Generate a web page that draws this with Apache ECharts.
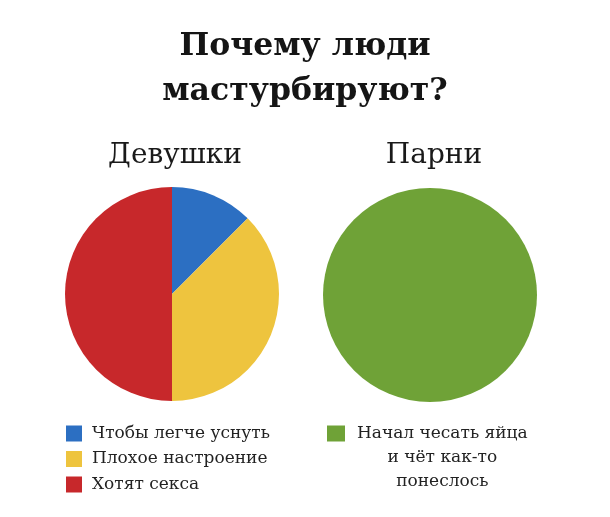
<!DOCTYPE html>
<html>
<head>
<meta charset="utf-8">
<script src="https://cdn.jsdelivr.net/npm/echarts@6/dist/echarts.min.js"></script>
<style>
  html, body { margin: 0; padding: 0; background: #fff; }
  #chart { width: 610px; height: 517px; }
</style>
</head>
<body>
<div id="chart"></div>
<script>
// данные
const mainTitle = 'Почему люди\nмастурбируют?'
const groupNames = ['Девушки', 'Парни']
const girlsReasons = ['Чтобы легче уснуть', 'Плохое настроение', 'Хотят секса']
const girlsShares = [12.5, 37.5, 50]
const guysReasons = ['Начал чесать яйца\nи чёт как-то\nпонеслось']
const guysShares = [100]

const serif = '"DejaVu Serif", "Liberation Serif", serif'
const girlsColors = ['#2c6fc2', '#eec43e', '#c7282b']
const guysColors = ['#6fa237']

const chart = echarts.init(document.getElementById('chart'))

const option = {
  backgroundColor: '#ffffff',
  animation: false,
  title: {
    text: mainTitle,
    left: 'center',
    top: 19,
    textStyle: { fontFamily: serif, fontSize: 31.5, fontWeight: 'bold', color: '#151515', lineHeight: 45 }
  },
  graphic: [
    { type: 'text', x: 175, y: 156, style: { text: groupNames[0], fontFamily: serif, fontSize: 28, fill: '#1a1a1a', align: 'center', verticalAlign: 'middle' } },
    { type: 'text', x: 434, y: 156, style: { text: groupNames[1], fontFamily: serif, fontSize: 28, fill: '#1a1a1a', align: 'center', verticalAlign: 'middle' } }
  ],
  legend: [
    {
      data: girlsReasons,
      orient: 'vertical',
      left: 66,
      top: 425,
      padding: 0,
      itemWidth: 16,
      itemHeight: 16,
      itemGap: 8.5,
      icon: 'rect',
      selectedMode: false,
      textStyle: { fontFamily: serif, fontSize: 17, color: '#222', padding: [0, 0, 0, 5] }
    },
    {
      data: guysReasons,
      left: 327,
      top: 425,
      padding: 0,
      itemWidth: 18,
      itemHeight: 16,
      icon: 'rect',
      selectedMode: false,
      // первая строка рядом с квадратиком, остальные по центру под ней
      formatter: name => name.split('\n').map(l => '{c|' + l + '}').join('\n'),
      textStyle: {
        padding: [48, 0, 0, 7],
        rich: { c: { fontFamily: serif, fontSize: 17, color: '#222', lineHeight: 24, align: 'center' } }
      }
    }
  ],
  series: [
    {
      name: groupNames[0],
      type: 'pie',
      center: [172, 294],
      radius: 107,
      startAngle: 90,
      clockwise: true,
      label: { show: false },
      emphasis: { disabled: true },
      data: girlsReasons.map((n, i) => ({ name: n, value: girlsShares[i], itemStyle: { color: girlsColors[i] } }))
    },
    {
      name: groupNames[1],
      type: 'pie',
      center: [430, 295],
      radius: 107,
      startAngle: 90,
      label: { show: false },
      emphasis: { disabled: true },
      data: guysReasons.map((n, i) => ({ name: n, value: guysShares[i], itemStyle: { color: guysColors[i] } }))
    }
  ]
}

chart.setOption(option)
window.addEventListener('resize', () => {
  chart.resize()
})
</script>
</body>
</html>
